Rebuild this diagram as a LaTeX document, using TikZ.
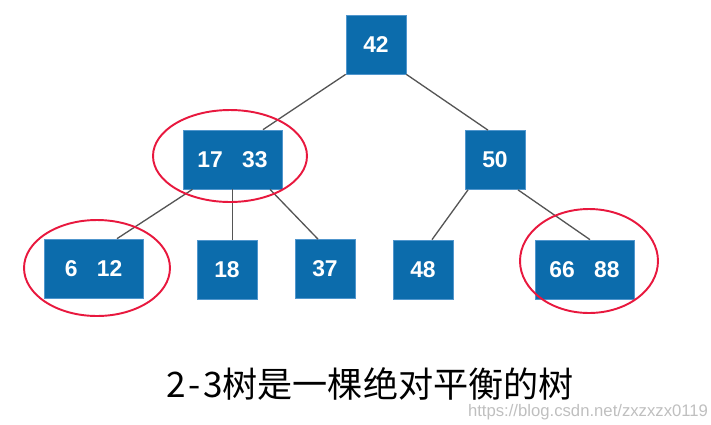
\documentclass[tikz,border=0pt]{standalone}
\usepackage{fontspec}
\setmainfont{Liberation Sans}
\newfontfamily\cjk{Noto Sans CJK SC}
\usetikzlibrary{positioning, calc}
\definecolor{keyblue}{RGB}{12,108,172}
\definecolor{keyedge}{RGB}{80,150,205}
\definecolor{ringred}{RGB}{232,24,62}
\definecolor{linkgray}{RGB}{85,85,85}

\begin{document}
\begin{tikzpicture}[x=0.02cm, y=-0.02cm,
  key/.style={rectangle, fill=keyblue, draw=keyedge, line width=0.4pt, text=white,
    font=\fontsize{13}{15}\selectfont\bfseries, minimum width=1.2cm, minimum height=1.18cm, inner sep=0pt},
  wide/.style={key, minimum width=1.98cm},
  link/.style={draw=linkgray, line width=0.75pt},
  ring/.style={draw=ringred, line width=1.1pt}]
  \useasboundingbox (0,0) rectangle (711,424);
  % keys
  \node[key] (n42) at (376,44.5) {42};
  \node[wide] (n1733) at (232.5,159.5) {17\hspace{11pt}33};
  \node[key] (n50) at (495,160) {50};
  \node[wide] (n612) at (93.5,268.5) {6\hspace{11pt}12};
  \node[key] (n18) at (227,269.5) {18};
  \node[key] (n37) at (325,269) {37};
  \node[key] (n48) at (423,269.5) {48};
  \node[wide] (n6688) at (584.5,269.5) {66\hspace{11pt}88};
  % links
  \draw[link] (n42.south west) -- ([xshift=0.61cm]n1733.north);
  \draw[link] (n42.south east) -- ([xshift=-0.14cm]n50.north);
  \draw[link] ([xshift=-0.8cm]n1733.south) -- ([xshift=0.47cm]n612.north);
  \draw[link] (n1733.south) -- (n1733.south |- n18.north);
  \draw[link] ([xshift=0.75cm]n1733.south) -- ([xshift=-0.14cm]n37.north);
  \draw[link] ([xshift=-0.54cm]n50.south) -- ([xshift=0.18cm]n48.north);
  \draw[link] ([xshift=0.46cm]n50.south) -- ([xshift=0.11cm]n6688.north);
  % 3-nodes
  \draw[ring] (230,156) ellipse [x radius=1.54cm, y radius=0.92cm];
  \draw[ring] (97,268) ellipse [x radius=1.46cm, y radius=0.96cm];
  \draw[ring] (589,261) ellipse [x radius=1.38cm, y radius=1.04cm];
  \node[font=\cjk\fontsize{20}{24}\selectfont, inner sep=0pt, text depth=0pt] (cap) at (370,383) {2\hspace{1.5pt}-\hspace{1.5pt}3树是一棵绝对平衡的树};
  \node[font=\fontsize{9.5}{11}\selectfont, text=black!25, inner sep=0pt] (mark) at (588,412) {https://blog.csdn.net/zxzxzx0119};
\end{tikzpicture}
\end{document}
